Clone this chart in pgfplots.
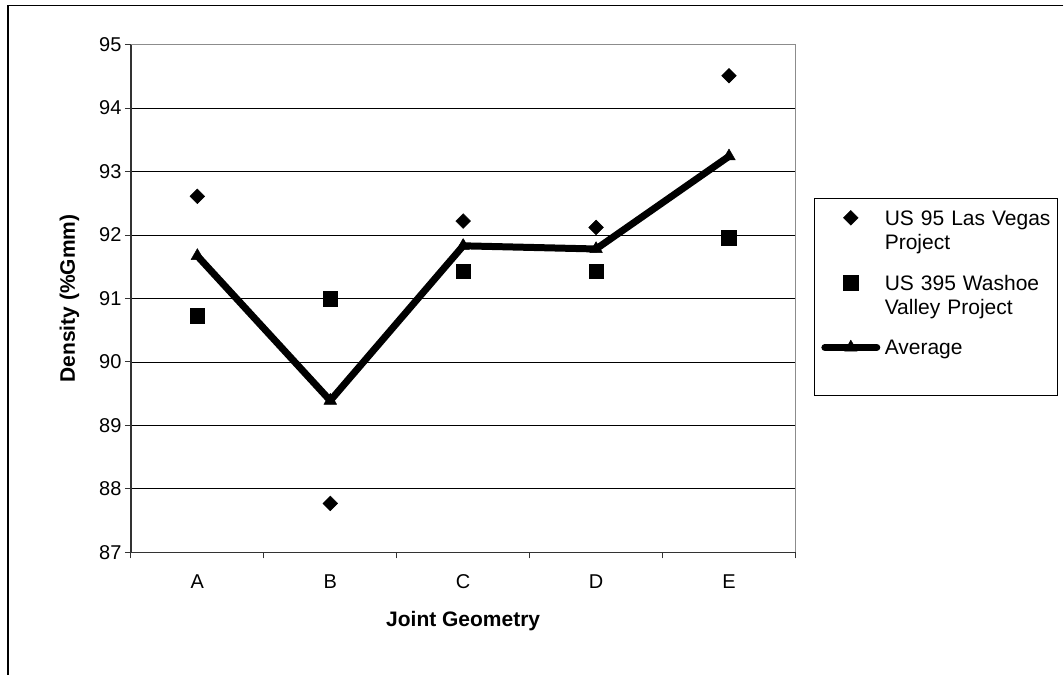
\documentclass[border=0pt]{standalone}
\usepackage{fontspec}
\setmainfont{Liberation Sans}
\usepackage{pgfplots}
\pgfplotsset{compat=1.18}
\hyphenpenalty=10000
\newcommand{\tickfont}{\fontsize{20bp}{24bp}\selectfont}
\newcommand{\legfont}{\fontsize{21bp}{24bp}\selectfont}
\pgfplotsset{
  legmark/.style={legend image code/.code={\path (0bp,0bp) (59bp,0bp); \draw[mark repeat=2, mark phase=2, ##1] plot coordinates {(0bp,7.5bp) (29.5bp,7.5bp) (59bp,7.5bp)};}},
  legline/.style={legend image code/.code={\path (0bp,0bp) (59bp,0bp); \draw[mark repeat=2, mark phase=2, line cap=round, ##1] plot coordinates {(3.5bp,7.5bp) (29.5bp,7.5bp) (55.5bp,7.5bp)};}},
}
\begin{document}
\begin{tikzpicture}[x=1bp,y=1bp]
\path (0,0) rectangle (1064,675);
\begin{axis}[
  at={(131bp,122.3bp)}, anchor=south west,
  scale only axis, width=665bp, height=508bp,
  xmin=-0.5, xmax=4.5, ymin=87, ymax=95,
  axis lines*=left,
  axis line style={-, black!80, line width=1.5bp},
  xtick={-0.5,0.5,...,4.5}, xticklabels={},
  extra x ticks={0,1,2,3,4},
  extra x tick labels={{\tickfont A},{\tickfont B},{\tickfont C},{\tickfont D},{\tickfont E}},
  extra x tick style={major tick length=0pt, grid=none, xticklabel style={font=\tickfont, yshift=-19bp}},
  ytick={87,88,...,95},
  yticklabel={\tickfont\pgfmathprintnumber{\tick}},
  ymajorgrids,
  grid style={black, line width=0.8bp},
  tick align=outside,
  major tick length=6bp,
  tick style={black!80, line width=1bp},
  /pgf/number format/assume math mode=true,
  tick label style={font=\tickfont},
  xlabel={Joint Geometry}, ylabel={Density (\%Gmm)},
  label style={font=\fontsize{21bp}{24bp}\selectfont\bfseries},
  xlabel style={at={(axis description cs:0.5,-0.1463)}, anchor=base},
  ylabel style={at={(axis description cs:-0.0842,0.5)}, anchor=base},
  legend style={at={(1.0286,0.6982)}, anchor=north west, draw=black, line width=0.8bp, fill=white,
    inner xsep=3bp, inner ysep=12.2bp, column sep=1bp, row sep=21.5bp,
    font=\legfont,
    nodes={inner sep=0pt, text depth=},
    cells={anchor=base west, inner sep=0pt, text depth=, text width=170bp, align=left}},
  after end axis/.code={\draw[black!45, line width=1.5bp] (rel axis cs:0,1) -- (rel axis cs:1,1) -- (rel axis cs:1,0);},
]
\addplot[only marks, mark=square*, mark size=5.2bp, mark options={rotate=45, fill=black, draw=black, line width=0.5bp}, legmark]
  coordinates {(0,92.61) (1,87.77) (2,92.22) (3,92.12) (4,94.51)};
\addlegendentry{US 95 Las Vegas\\Project}
\addplot[only marks, mark=square*, mark size=7.3bp, mark options={fill=black, draw=black, line width=0.5bp}, legmark]
  coordinates {(0,90.73) (1,91.00) (2,91.43) (3,91.43) (4,91.96)};
\addlegendentry{US 395 Washoe\\Valley Project}
\addplot[black, line width=7bp, line join=round, mark=triangle*, mark size=7.3bp, mark options={fill=black, draw=black, line width=0.5bp, solid}, legline]
  coordinates {(0,91.67) (1,89.39) (2,91.83) (3,91.78) (4,93.24)};
\addlegendentry{Average\rule[-28bp]{0pt}{0pt}}
\end{axis}
\draw[black, line width=1.5bp] (1064,669.3) -- (8,669.3) -- (8,0);
\end{tikzpicture}
\end{document}
